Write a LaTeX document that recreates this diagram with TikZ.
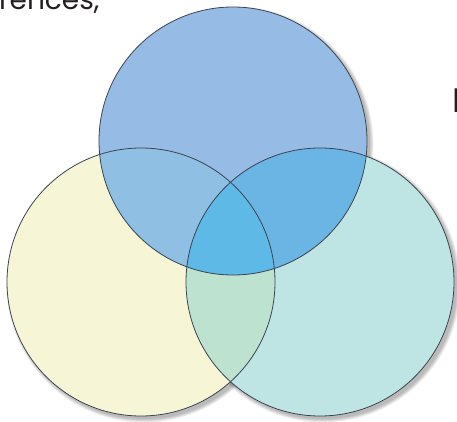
\documentclass[tikz,border=0pt]{standalone}
\usepackage{fontspec}
\setmainfont{Poppins}
\usetikzlibrary{calc}
\definecolor{topColor}{RGB}{150,187,228}
\definecolor{leftColor}{RGB}{246,246,214}
\definecolor{rightColor}{RGB}{190,228,228}
\definecolor{tlColor}{RGB}{143,191,227}
\definecolor{trColor}{RGB}{107,181,228}
\definecolor{lrColor}{RGB}{189,226,208}
\definecolor{allColor}{RGB}{95,185,230}
\definecolor{ringColor}{RGB}{60,68,80}
\definecolor{txtColor}{RGB}{35,31,32}
\tikzstyle{ring} = [draw=ringColor, line width=0.8pt]
\tikzstyle{shade} = [fill=black, opacity=0.05]
\tikzstyle{word} = [anchor=base west, inner sep=0pt, text=txtColor, font=\fontsize{28}{30}\selectfont]

\begin{document}
\begin{tikzpicture}[x=1pt, y=-1pt]
    % Frame
    \useasboundingbox (0,0) rectangle (457,422);
    \clip (0,0) rectangle (457,422);

    % Centres
    \def\rr{134}
    \coordinate (top) at (233,141);
    \coordinate (left) at (141,282);
    \coordinate (right) at (320,282);

    % Shadows
    \foreach \c in {top,left,right}
        \foreach \s in {0,1,...,5}
            \fill[shade] ($(\c)+(3,3)$) circle (\rr+\s*0.7);

    % Discs
    \fill[leftColor] (left) circle (\rr);
    \fill[rightColor] (right) circle (\rr);
    \fill[topColor] (top) circle (\rr);

    % Overlaps
    \begin{scope}
        \clip (left) circle (\rr);
        \fill[lrColor] (right) circle (\rr);
    \end{scope}
    \begin{scope}
        \clip (top) circle (\rr);
        \fill[tlColor] (left) circle (\rr);
    \end{scope}
    \begin{scope}
        \clip (top) circle (\rr);
        \fill[trColor] (right) circle (\rr);
    \end{scope}
    \begin{scope}
        \clip (top) circle (\rr);
        \clip (left) circle (\rr);
        \fill[allColor] (right) circle (\rr);
    \end{scope}

    % Outlines
    \foreach \c in {top,left,right}
        \draw[ring] (\c) circle (\rr);

    % Cut-off text
    \node[word] (caption) at (-1,10) {rences,};
    \node[word, font=\fontsize{34}{36}\selectfont] (cut) at (452,113) {I};
\end{tikzpicture}
\end{document}
